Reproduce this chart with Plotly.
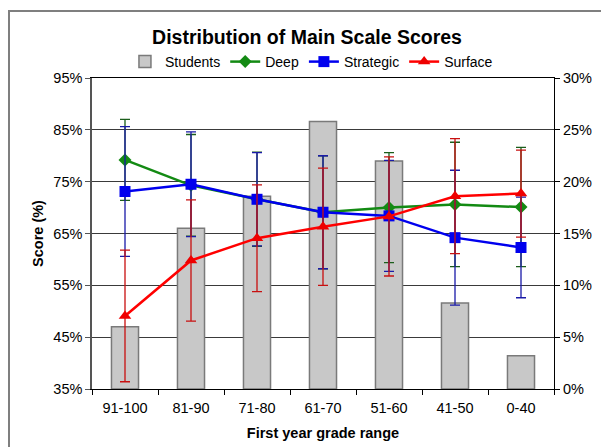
import plotly.graph_objects as go

categories = ["91-100", "81-90", "71-80", "61-70", "51-60", "41-50", "0-40"]
students = [6.0, 15.5, 18.6, 25.8, 22.0, 8.3, 3.2]
deep = [79.2, 74.3, 71.6, 69.1, 70.0, 70.6, 70.1]
deep_err = [7.8, 9.8, 9.1, 10.9, 10.6, 12.0, 11.5]
strategic = [73.1, 74.5, 71.6, 69.1, 68.4, 64.2, 62.3]
strategic_err = [12.5, 10.1, 9.0, 10.9, 10.7, 13.0, 9.7]
surface = [49.1, 59.8, 64.1, 66.3, 68.3, 72.2, 72.7]
surface_err = [12.7, 11.7, 10.3, 11.3, 11.5, 11.1, 8.4]

left_ticks = [35, 45, 55, 65, 75, 85, 95]
right_ticks = [0, 5, 10, 15, 20, 25, 30]

FONT = "Liberation Sans, Arial, sans-serif"
TICK = 14.5

fig = go.Figure()
fig.add_trace(go.Bar(
    x=categories, y=students, name="Students", yaxis="y",
    marker=dict(color="#c8c8c8", line=dict(color="#7a7a7a", width=1.5)),
    width=0.41,
))
fig.add_trace(go.Scatter(
    x=categories, y=deep, name="Deep", yaxis="y2", mode="lines+markers",
    line=dict(color="#138a13", width=2.5),
    marker=dict(symbol="diamond", size=10, color="#138a13"),
    error_y=dict(type="data", array=deep_err, visible=True, color="#1b5e1b", thickness=1.3, width=5),
))
fig.add_trace(go.Scatter(
    x=categories, y=strategic, name="Strategic", yaxis="y2", mode="lines+markers",
    line=dict(color="#0000ee", width=2.5),
    marker=dict(symbol="square", size=11, color="#0000ee"),
    error_y=dict(type="data", array=strategic_err, visible=True, color="#1a1aa8", thickness=1.3, width=5),
))
fig.add_trace(go.Scatter(
    x=categories, y=surface, name="Surface", yaxis="y2", mode="lines+markers",
    line=dict(color="#ff0000", width=2.5),
    marker=dict(symbol="triangle-up", size=11, color="#ee0000"),
    error_y=dict(type="data", array=surface_err, visible=True, color="#c81010", thickness=1.3, width=5),
))

fig.update_layout(
    template="none",
    width=601, height=447,
    margin=dict(l=92, r=47, t=78, b=58, autoexpand=False),
    paper_bgcolor="white", plot_bgcolor="white",
    font=dict(family=FONT, size=TICK, color="black"),
    title=dict(text="<b>Distribution of Main Scale Scores</b>", x=307/601, xanchor="center",
               y=1 - 37/447, yanchor="middle", font=dict(size=19.5, family=FONT)),
    showlegend=True,
    legend=dict(orientation="h", x=0.475, xanchor="center", y=1.0, yanchor="bottom",
                font=dict(size=14), bgcolor="rgba(0,0,0,0)", itemwidth=30,
                tracegroupgap=0),
    bargap=0.59,
    xaxis=dict(
        type="category", tickson="boundaries", ticks="outside", ticklen=5,
        tickcolor="black", showline=True, linecolor="black", linewidth=1, mirror=True,
        showgrid=False, tickfont=dict(size=TICK), ticklabelstandoff=6, automargin=False,
        title=dict(text="<b>First year grade range</b>", font=dict(size=14.5), standoff=12),
    ),
    yaxis=dict(
        side="right", range=[0, 30], tickvals=right_ticks, automargin=False,
        ticktext=[f"{v}%" for v in right_ticks], tickfont=dict(size=TICK),
        showgrid=True, gridcolor="#3a3a3a", gridwidth=1,
        showline=True, linecolor="black", linewidth=1,
        ticks="outside", ticklen=5, tickcolor="black", zeroline=False,
    ),
    yaxis2=dict(
        side="left", overlaying="y", range=[35, 95], tickvals=left_ticks, automargin=False,
        ticktext=[f"{v}%" for v in left_ticks], tickfont=dict(size=TICK),
        showgrid=False, showline=True, linecolor="#555555", linewidth=1.5,
        ticks="outside", ticklen=5, tickcolor="#555555", zeroline=False,
        title=dict(text="<b>Score (%)</b>", font=dict(size=14.5), standoff=6),
    ),
    shapes=[dict(type="rect", xref="paper", yref="paper",
                 x0=(9 - 92) / 462, x1=(640 - 92) / 462,
                 y0=(389 - 480) / 311, y1=(389 - 11) / 311,
                 line=dict(color="#7f7f7f", width=2), fillcolor="rgba(0,0,0,0)", layer="below")],
)

fig.write_html("out.html", config={"displayModeBar": False},
               post_script="document.body.style.margin='0px';document.body.style.overflow='hidden';")
